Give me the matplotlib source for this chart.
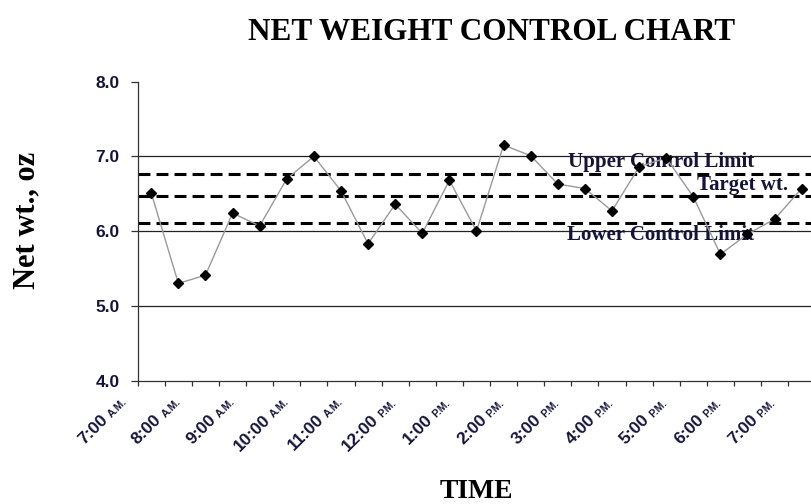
import matplotlib
matplotlib.use("Agg")
import matplotlib.pyplot as plt
import matplotlib.transforms as mtransforms

# ── Data ──────────────────────────────────────────────────────
weights = [6.51, 5.30, 5.41, 6.24, 6.07, 6.70, 7.00, 6.54, 5.83, 6.36,
           5.97, 6.68, 6.00, 7.15, 7.01, 6.63, 6.57, 6.27, 6.86, 6.98,
           6.46, 5.69, 5.96, 6.16, 6.57]
hours  = ["7:00", "8:00", "9:00", "10:00", "11:00", "12:00", "1:00",
          "2:00", "3:00", "4:00", "5:00", "6:00", "7:00"]
ampm   = ["A.M.", "A.M.", "A.M.", "A.M.", "A.M.", "P.M.", "P.M.",
          "P.M.", "P.M.", "P.M.", "P.M.", "P.M.", "P.M."]
ucl, target, lcl = 6.77, 6.47, 6.11
grid_levels = [5.0, 6.0, 7.0]
yticks = [4.0, 5.0, 6.0, 7.0, 8.0]

serif = "Liberation Serif"
sans  = "Liberation Sans"
txtcol = "#14143a"

# ── Figure ────────────────────────────────────────────────────
fig = plt.figure(figsize=(8.12, 5.04), dpi=100)
ax = fig.add_axes([0.1696, 0.245, 0.8344, 0.5929])

n = len(weights)
x = list(range(n))

for g in grid_levels:
    ax.axhline(g, color="#222222", lw=0.9, zorder=1)
for lvl in (ucl, target, lcl):
    ax.axhline(lvl, color="black", lw=2.2, ls=(0, (3.9, 2.0)), zorder=2)

ax.plot(x, weights, color="#9a9a9a", lw=1.0, zorder=3)
ax.plot(x, weights, ls="none", marker="D", ms=5.0, color="black", zorder=4)

ax.set_xlim(-0.5, n - 0.5)
ax.set_ylim(4.0, 8.0)
ax.set_yticks(yticks)
ax.set_yticklabels([f"{v:.1f}" for v in yticks], fontfamily=sans,
                   fontweight="bold", fontsize=12.5, color=txtcol)
ax.set_xticks([i - 0.5 for i in range(n + 1)])
ax.set_xticklabels([])
ax.tick_params(axis="y", length=4.8, width=0.9, pad=8.4, color="#333333")
ax.tick_params(axis="x", length=3.8, width=0.9, color="#333333")

for s in ("top", "right"):
    ax.spines[s].set_visible(False)
for s in ("left", "bottom"):
    ax.spines[s].set_color("#333333")
    ax.spines[s].set_linewidth(0.9)

# ── Rotated time labels (big hour + small A.M./P.M.) ──────────
base = ax.get_xaxis_transform()
tr_small = mtransforms.offset_copy(base, fig=fig, x=-40, y=-37, units="dots")
tr_big   = mtransforms.offset_copy(base, fig=fig, x=-43, y=-40, units="dots")
for j, (h, ap) in enumerate(zip(hours, ampm)):
    xc = 2 * j
    ax.text(xc, 0, h, transform=tr_big, rotation=45, rotation_mode="anchor",
            ha="right", va="baseline", fontfamily=sans, fontweight="bold",
            fontsize=12.5, color=txtcol, clip_on=False)
    ax.text(xc, 0, ap, transform=tr_small, rotation=45, rotation_mode="anchor",
            ha="left", va="baseline", fontfamily=sans, fontweight="bold",
            fontsize=7.5, color=txtcol, clip_on=False)

# ── Limit labels (sit under the data markers) ─────────────────
ax.text(18.8, 6.86, "Upper Control Limit", ha="center", va="baseline",
        fontfamily=serif, fontweight="bold", fontsize=15, color=txtcol, zorder=2.5)
ax.text(21.8, 6.55, "Target wt.", ha="center", va="baseline",
        fontfamily=serif, fontweight="bold", fontsize=15, color=txtcol, zorder=2.5)
ax.text(18.8, 5.88, "Lower Control Limit", ha="center", va="baseline",
        fontfamily=serif, fontweight="bold", fontsize=15, color=txtcol, zorder=2.5)

# ── Titles ────────────────────────────────────────────────────
fig.text(492 / 812, 1 - 40 / 504, "NET WEIGHT CONTROL CHART", ha="center",
         va="baseline", fontfamily=serif, fontweight="bold", fontsize=22.5,
         color="black")
fig.text(476 / 812, 1 - 498 / 504, "TIME", ha="center", va="baseline",
         fontfamily=serif, fontweight="bold", fontsize=20, color="black")
fig.text(27 / 812, 1 - 220 / 504, "Net wt., oz", ha="center", va="center",
         rotation=90, fontfamily=serif, fontweight="bold", fontsize=22,
         color="black")

fig.savefig("out.png", dpi=100)
